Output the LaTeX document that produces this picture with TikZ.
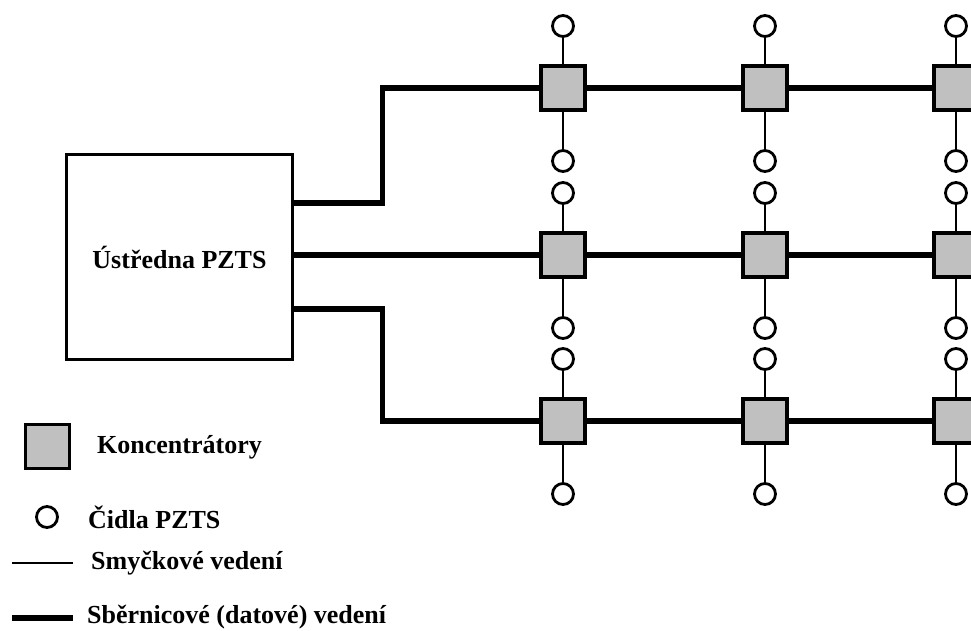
\documentclass[tikz,border=0pt]{standalone}
\usepackage{fontspec}
\setmainfont{Liberation Serif}
\usetikzlibrary{positioning}
\definecolor{kgray}{RGB}{192,192,192}
\newcommand{\legfont}{\fontsize{26}{31}\selectfont\bfseries}
\tikzset{
  konc/.style={draw, line width=3.6pt, fill=kgray, minimum size=44pt, inner sep=0pt},
  cidlo/.style={circle, draw, line width=2.8pt, fill=white, minimum size=21pt, inner sep=0pt},
  smyc/.style={line width=2.8pt},
  sber/.style={line width=5.2pt},
  ustr/.style={draw, line width=3.2pt, minimum width=226pt, minimum height=205pt, font=\legfont},
  lbl/.style={font=\legfont, anchor=west, inner sep=0pt},
}

\begin{document}
\begin{tikzpicture}[x=1pt, y=-1pt]
  \useasboundingbox (0,0) rectangle (971,630);
  \clip (0,0) rectangle (971,630);
  \node[ustr] (ustr) at (179.5,257) {Ústředna PZTS};
  % koncentratory s cidly
  \foreach \r/\y in {1/88, 2/255, 3/421} {
    \foreach \c/\x in {1/563, 2/765, 3/956} {
      \node[cidlo] (h\r\c) at (\x,\y-62) {};
      \node[cidlo] (d\r\c) at (\x,\y+73) {};
      \node[konc] (k\r\c) at (\x,\y) {};
      \draw[smyc] (h\r\c) -- (k\r\c) -- (d\r\c);
    }
  }
  % sbernice
  \draw[sber] (ustr.east |- 0,203) -- ++(88,0) |- (k11);
  \draw[sber] (ustr.east |- k21) -- (k21);
  \draw[sber] (ustr.east |- 0,309) -- ++(88,0) |- (k31);
  \foreach \r in {1,2,3}
    \draw[sber] (k\r1) -- (k\r2) -- (k\r3);
  % legenda
  \node[konc] (lkonc) at (47.5,446.5) {};
  \node[lbl] (tkonc) at (97,447) {Koncentrátory};
  \node[cidlo, minimum size=21pt] (lcid) at (47,517) {};
  \node[lbl] (tcid) at (88,517) {Čidla PZTS};
  \coordinate (ls1) at (12,563); \coordinate (ls2) at (73,563);
  \draw[smyc] (ls1) -- (ls2);
  \node[lbl] (tsmyc) at (91,563) {Smyčkové vedení};
  \coordinate (lb1) at (12,618); \coordinate (lb2) at (73,618);
  \draw[sber] (lb1) -- (lb2);
  \node[lbl] (tsber) at (87,617) {Sběrnicové (datové) vedení};
\end{tikzpicture}
\end{document}
